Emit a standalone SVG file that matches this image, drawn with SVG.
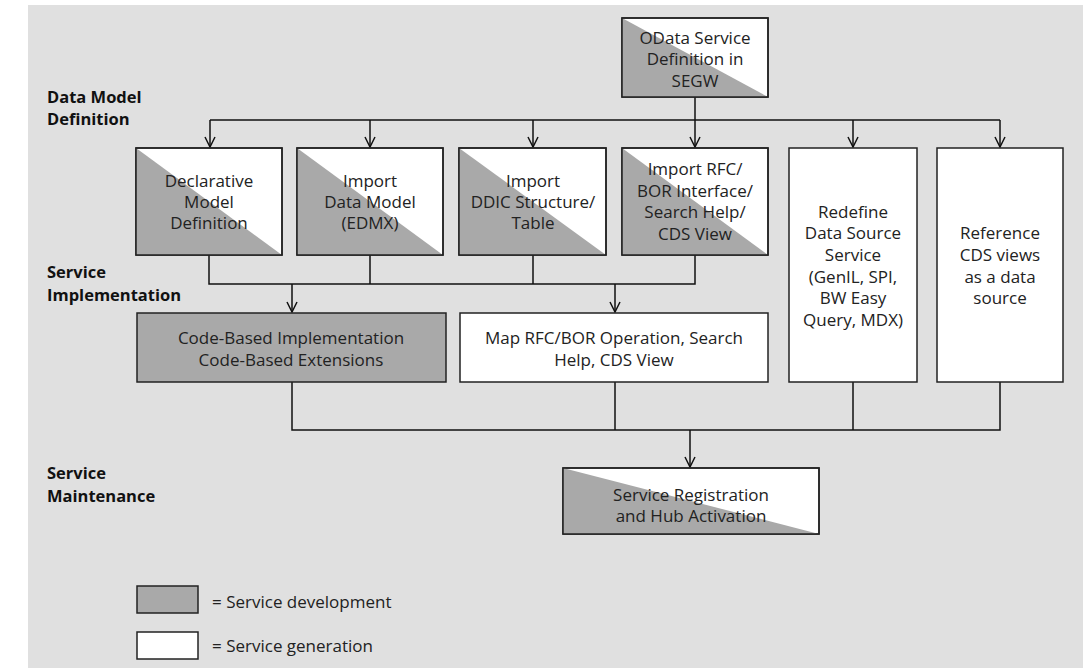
<svg xmlns="http://www.w3.org/2000/svg" width="1083" height="668" viewBox="0 0 1083 668">
<style>
.bg{fill:#e0e0e0}
.box{stroke:#222;stroke-width:1.5}
.w{fill:#ffffff}
.g{fill:#a9a9a9}
.tri{fill:#a9a9a9;stroke:none}
.edge{fill:none;stroke:#111;stroke-width:1.5}
.t{font-family:"Open Sans","Noto Sans",sans-serif;font-size:17px;fill:#222;text-anchor:middle;dominant-baseline:central}
.lbl{font-family:"Open Sans","Noto Sans",sans-serif;font-size:16.5px;font-weight:700;fill:#111}
.leg{font-family:"Open Sans","Noto Sans",sans-serif;font-size:17px;fill:#222;dominant-baseline:central}
</style>
<defs>
<marker id="arr" viewBox="0 0 12 12" refX="11" refY="6" markerWidth="12" markerHeight="12" markerUnits="userSpaceOnUse" orient="auto">
<path d="M1,1 L11,6 L1,11" fill="none" stroke="#111" stroke-width="1.5"/>
</marker>
</defs>
<rect class="bg" x="28" y="5" width="1055" height="663"/>

<g id="labels">
<text class="lbl" x="47" y="103">Data Model</text>
<text class="lbl" x="47" y="125">Definition</text>
<text class="lbl" x="47" y="278">Service</text>
<text class="lbl" x="47" y="301">Implementation</text>
<text class="lbl" x="47" y="479">Service</text>
<text class="lbl" x="47" y="502">Maintenance</text>
</g>

<g id="connectors">
<path class="edge" d="M695,97 V120"/>
<path class="edge" d="M210,120 H1000"/>
<path class="edge" d="M210,120 V147" marker-end="url(#arr)"/>
<path class="edge" d="M370,120 V147" marker-end="url(#arr)"/>
<path class="edge" d="M533,120 V147" marker-end="url(#arr)"/>
<path class="edge" d="M695,120 V147" marker-end="url(#arr)"/>
<path class="edge" d="M853,120 V147" marker-end="url(#arr)"/>
<path class="edge" d="M1000,120 V147" marker-end="url(#arr)"/>
<path class="edge" d="M209,255 V284 H695 V255"/>
<path class="edge" d="M370,255 V284"/>
<path class="edge" d="M533,255 V284"/>
<path class="edge" d="M292,284 V312" marker-end="url(#arr)"/>
<path class="edge" d="M615,284 V312" marker-end="url(#arr)"/>
<path class="edge" d="M292,382 V430 H1000 V382"/>
<path class="edge" d="M615,382 V430"/>
<path class="edge" d="M853,382 V430"/>
<path class="edge" d="M690,430 V467" marker-end="url(#arr)"/>
</g>

<g id="odata">
<rect class="box w" x="622" y="18" width="146" height="79"/>
<polygon class="tri" points="622,18 768,97 622,97"/>
<rect class="box" x="622" y="18" width="146" height="79" fill="none"/>
<text class="t" x="695" y="37">OData Service</text>
<text class="t" x="695" y="58">Definition in</text>
<text class="t" x="695" y="80">SEGW</text>
</g>

<g id="declarative">
<rect class="box w" x="136" y="148" width="146" height="107"/>
<polygon class="tri" points="136,148 282,255 136,255"/>
<rect class="box" x="136" y="148" width="146" height="107" fill="none"/>
<text class="t" x="209" y="180">Declarative</text>
<text class="t" x="209" y="201">Model</text>
<text class="t" x="209" y="222">Definition</text>
</g>

<g id="edmx">
<rect class="box w" x="297" y="148" width="146" height="107"/>
<polygon class="tri" points="297,148 443,255 297,255"/>
<rect class="box" x="297" y="148" width="146" height="107" fill="none"/>
<text class="t" x="370" y="180">Import</text>
<text class="t" x="370" y="201">Data Model</text>
<text class="t" x="370" y="222">(EDMX)</text>
</g>

<g id="ddic">
<rect class="box w" x="459" y="148" width="147" height="107"/>
<polygon class="tri" points="459,148 606,255 459,255"/>
<rect class="box" x="459" y="148" width="147" height="107" fill="none"/>
<text class="t" x="533" y="180">Import</text>
<text class="t" x="533" y="201">DDIC Structure/</text>
<text class="t" x="533" y="222">Table</text>
</g>

<g id="rfc">
<rect class="box w" x="622" y="148" width="146" height="107"/>
<polygon class="tri" points="622,148 768,255 622,255"/>
<rect class="box" x="622" y="148" width="146" height="107" fill="none"/>
<text class="t" x="695" y="168">Import RFC/</text>
<text class="t" x="695" y="190">BOR Interface/</text>
<text class="t" x="695" y="211">Search Help/</text>
<text class="t" x="695" y="233">CDS View</text>
</g>

<g id="redefine">
<rect class="box w" x="789" y="148" width="128" height="234"/>
<text class="t" x="853" y="211">Redefine</text>
<text class="t" x="853" y="232">Data Source</text>
<text class="t" x="853" y="254">Service</text>
<text class="t" x="853" y="276">(GenIL, SPI,</text>
<text class="t" x="853" y="297">BW Easy</text>
<text class="t" x="853" y="319">Query, MDX)</text>
</g>

<g id="reference">
<rect class="box w" x="937" y="148" width="126" height="234"/>
<text class="t" x="1000" y="232">Reference</text>
<text class="t" x="1000" y="254">CDS views</text>
<text class="t" x="1000" y="276">as a data</text>
<text class="t" x="1000" y="297">source</text>
</g>

<g id="codebased">
<rect class="box g" x="137" y="313" width="309" height="69"/>
<text class="t" x="291" y="337">Code-Based Implementation</text>
<text class="t" x="291" y="359">Code-Based Extensions</text>
</g>

<g id="map">
<rect class="box w" x="460" y="313" width="308" height="69"/>
<text class="t" x="614" y="337">Map RFC/BOR Operation, Search</text>
<text class="t" x="614" y="359">Help, CDS View</text>
</g>

<g id="registration">
<rect class="box w" x="563" y="468" width="256" height="66"/>
<polygon class="tri" points="563,468 819,534 563,534"/>
<rect class="box" x="563" y="468" width="256" height="66" fill="none"/>
<text class="t" x="691" y="494">Service Registration</text>
<text class="t" x="691" y="515">and Hub Activation</text>
</g>

<g id="legend">
<rect class="box g" x="137" y="586" width="61" height="27"/>
<text class="leg" x="212" y="601">= Service development</text>
<rect class="box w" x="137" y="632" width="61" height="27"/>
<text class="leg" x="212" y="645">= Service generation</text>
</g>
</svg>
